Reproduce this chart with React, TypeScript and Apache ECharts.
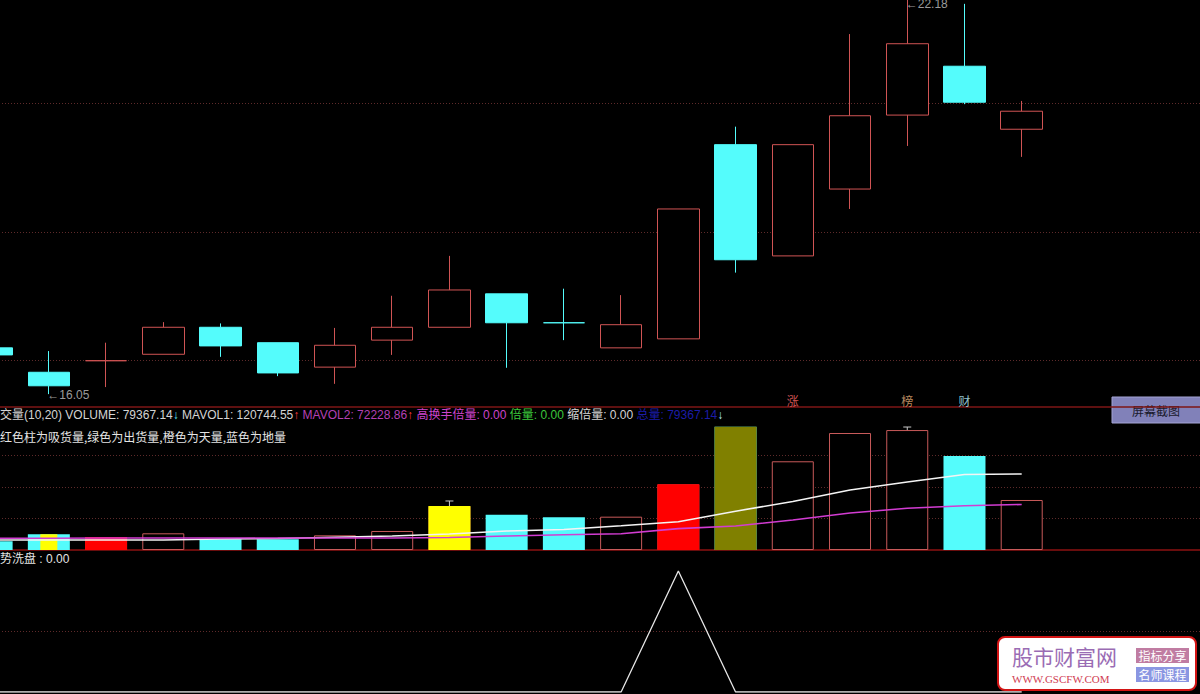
import React, { useEffect, useRef } from "react";
import * as echarts from "echarts";

// ---------- data ----------
const categories = ["1","2","3","4","5","6","7","8","9","10","11","12","13","14","15","16","17","18","19","20","21","22"];

// [open, close, low, high]
const candles: number[][] = [
  [16.77, 16.66, 16.63, 16.80],
  [16.39, 16.18, 16.05, 16.72],
  [16.57, 16.57, 16.16, 16.85],
  [16.67, 17.09, 16.67, 17.17],
  [17.09, 16.80, 16.63, 17.15],
  [16.85, 16.38, 16.33, 16.85],
  [16.47, 16.81, 16.21, 17.08],
  [16.89, 17.09, 16.66, 17.58],
  [17.09, 17.67, 17.09, 18.20],
  [17.61, 17.16, 16.46, 17.61],
  [17.16, 17.16, 16.89, 17.69],
  [16.77, 17.13, 16.77, 17.59],
  [16.91, 18.93, 16.91, 18.93],
  [19.93, 18.14, 17.94, 20.21],
  [18.20, 19.93, 18.20, 19.93],
  [19.24, 20.38, 18.93, 21.65],
  [20.39, 21.50, 19.91, 22.18],
  [21.15, 20.59, 20.56, 22.12],
  [20.17, 20.45, 19.74, 20.61],
];
// doji candles: true = drawn as rising (red), false = falling (cyan)
const dojiRising: Record<number, boolean> = { 2: true, 10: false };

const priceLabels = [
  [1, 16.05],
  [16, 22.18],
];
const markerIdx = [14, 16, 17];
const markerText = ["涨", "榜", "财"];

const volume = [14000, 25000, 20600, 26500, 17000, 17000, 23300, 30200, 69800, 56000, 51900, 52900, 104300, 195700, 140800, 185700, 190400, 149200, 79367.14];
const mavol1 = [15900, 15900, 15900, 15900, 17500, 18300, 20200, 22200, 25400, 30100, 32500, 38600, 44900, 61600, 77000, 95200, 107900, 119800, 120744.55];
const mavol2 = [18600, 18600, 19000, 19000, 19000, 19000, 19000, 19000, 19800, 22200, 24100, 25700, 34000, 38100, 47600, 58700, 66200, 70300, 72228.86];
// signal bars: kind per index ("" = none)
const signalKind = ["", "", "red", "", "", "", "", "", "yellow", "", "", "", "red", "olive", "", "", "", "", ""];
const narrowSignal = ["-", 25000, "-", "-", "-", "-", "-", "-", "-", "-", "-", "-", "-", "-", "-", "-", "-", "-", "-"];
const tickMarks = [
  [8, 69800, 77800],
  [16, 185000, 195200],
];
const washSignal = [0, 0, 0, 0, 0, 0, 0, 0, 0, 0, 0, 0, 1, 0, 0, 0, 0, 0, 0];

const priceGridLevels = [20.58, 18.57, 16.57];
const volGridLevels = [50000, 100000, 150000];
const washGridLevels = [0.5];

const legendNames = ["VOLUME", "MAVOL1", "MAVOL2", "高换手倍量", "倍量", "缩倍量", "总量"];
const legendValues = [79367.14, 120744.55, 72228.86, 0, 0, 0, 79367.14];
const legendArrows = ["↓", "↑", "↑", "", "", "", "↓"];
const volTitle = "交量(10,20)";
const volNote = "红色柱为吸货量,绿色为出货量,橙色为天量,蓝色为地量";
const washName = "势洗盘";
const washValue = 0;

// ---------- styles / layout ----------
const UP = "#d05454";
const DOWN = "#54fcfc";
const FONT = '"Liberation Sans", "Noto Sans CJK SC", sans-serif';
const CJK = '"Noto Sans CJK SC", "Liberation Sans", sans-serif';
const SIGNAL_COLORS: Record<string, string> = { red: "#ff0000", yellow: "#ffff00", olive: "#808000" };
const MARKER_COLORS = ["#ff6a6a", "#e8b07a", "#b8f0ff"];
const DOT = "#5e2a2a";

// the chart canvas is shifted left so that the first candle is partly cut off
const OFFSET_X = 37;
const CHART_W = 1259;
const CHART_H = 694;

function isRising(i: number) {
  const [o, c] = candles[i];
  if (o === c) return dojiRising[i] !== false;
  return c > o;
}

function buildOption(): any {
  const candleData = candles.map((v, i) => {
    const up = isRising(i);
    const col = up ? UP : DOWN;
    return {
      value: v,
      itemStyle: {
        color: up ? "#000000" : DOWN,
        color0: up ? "#000000" : DOWN,
        borderColor: col,
        borderColor0: col,
        borderColorDoji: col,
        borderWidth: 1,
      },
    };
  });

  const volData = volume.map((v, i) => {
    const up = isRising(i);
    return {
      value: v,
      itemStyle: up
        ? { color: "#000000", borderColor: "#c85a5a", borderWidth: 1 }
        : { color: DOWN, borderColor: DOWN, borderWidth: 0 },
    };
  });

  const signalData = signalKind.map((k, i) =>
    k ? { value: volume[i], itemStyle: { color: SIGNAL_COLORS[k] } } : "-"
  );

  const legendParts: string[] = [`{w|${volTitle} }`];
  legendNames.forEach((n, i) => {
    const styleKey = ["w", "w", "m", "p", "g", "w", "b"][i];
    const arrowKey = i === 0 ? "c" : i === 6 ? "bc" : "r";
    legendParts.push(`{${styleKey}|${i === 0 ? "" : " "}${n}: ${legendValues[i].toFixed(2)}}`);
    if (legendArrows[i]) legendParts.push(`{${arrowKey}|${legendArrows[i]}}`);
  });
  const rs = (c: string) => ({ fill: c, fontSize: 12, fontFamily: FONT });

  const dotted = (color: string) => ({ color, type: [1, 2] as number[], width: 1 });
  const X = (x: number) => x + OFFSET_X;

  const gridBase = { left: 0, right: 0 };

  return {
    animation: false,
    backgroundColor: "#000000",
    grid: [
      { ...gridBase, top: 0, height: 407 },
      { ...gridBase, top: 424, height: 126 },
      { ...gridBase, top: 551, height: 141 },
    ],
    xAxis: [
      { type: "category", gridIndex: 0, data: categories, boundaryGap: true, axisLine: { show: true, lineStyle: { color: "#7e1616", width: 1.5 } }, axisTick: { show: false }, axisLabel: { show: false }, splitLine: { show: false } },
      { type: "category", gridIndex: 1, data: categories, boundaryGap: true, axisLine: { show: true, lineStyle: { color: "#8c1212", width: 1.5 } }, axisTick: { show: false }, axisLabel: { show: false }, splitLine: { show: false } },
      { type: "category", gridIndex: 2, data: categories, boundaryGap: true, axisLine: { show: false }, axisTick: { show: false }, axisLabel: { show: false }, splitLine: { show: false } },
      { type: "category", gridIndex: 1, data: categories, boundaryGap: true, show: false },
    ],
    yAxis: [
      { type: "value", gridIndex: 0, min: 15.85, max: 22.18, show: false, splitLine: { show: false } },
      { type: "value", gridIndex: 1, min: 0, max: 200000, show: false, splitLine: { show: false } },
      { type: "value", gridIndex: 2, min: 0, max: 1.165, show: false, splitLine: { show: false } },
    ],
    series: [
      {
        type: "candlestick",
        xAxisIndex: 0,
        yAxisIndex: 0,
        barWidth: 42,
        data: candleData,
        markLine: {
          silent: true,
          z: 1,
          symbol: ["none", "none"],
          label: { show: false },
          lineStyle: dotted(DOT),
          data: priceGridLevels.map((v) => ({ yAxis: v })),
        },
      },
      {
        type: "scatter",
        xAxisIndex: 0,
        yAxisIndex: 0,
        symbolSize: 1,
        itemStyle: { color: "rgba(0,0,0,0)" },
        data: priceLabels.map((p, i) => ({
          value: p,
          label: { offset: i === 0 ? [-2, 1] : [-2, 4] },
        })),
        label: {
          show: true,
          position: "right",
          distance: 0,
          color: "#c4c4c4",
          fontSize: 12,
          fontFamily: FONT,
          formatter: (p: any) => "←" + Number(p.value[1]).toFixed(2),
        },
      },
      {
        type: "scatter",
        xAxisIndex: 0,
        yAxisIndex: 0,
        symbolSize: 1,
        itemStyle: { color: "rgba(0,0,0,0)" },
        data: markerIdx.map((x, i) => ({
          value: [x, 15.85, markerText[i]],
          label: { color: MARKER_COLORS[i] },
        })),
        label: {
          show: true,
          position: "inside",
          offset: [0, -7],
          fontSize: 12,
          fontFamily: CJK,
          formatter: (p: any) => p.value[2],
        },
      },
      {
        type: "bar",
        xAxisIndex: 1,
        yAxisIndex: 1,
        barWidth: 42,
        barGap: "-100%",
        data: volData,
        markLine: {
          silent: true,
          z: 1,
          symbol: ["none", "none"],
          label: { show: false },
          lineStyle: dotted(DOT),
          data: volGridLevels.map((v) => ({ yAxis: v })),
        },
      },
      {
        type: "line",
        xAxisIndex: 1,
        yAxisIndex: 1,
        data: mavol1,
        symbol: "none",
        lineStyle: { color: "#f4f4f4", width: 1.6 },
      },
      {
        type: "line",
        xAxisIndex: 1,
        yAxisIndex: 1,
        data: mavol2,
        symbol: "none",
        lineStyle: { color: "#d23cd2", width: 1.6 },
      },
      {
        type: "bar",
        xAxisIndex: 1,
        yAxisIndex: 1,
        barWidth: 42,
        barGap: "-100%",
        data: signalData,
      },
      {
        type: "bar",
        xAxisIndex: 3,
        yAxisIndex: 1,
        barWidth: 17,
        itemStyle: { color: "#ffff00" },
        data: narrowSignal,
      },
      {
        type: "custom",
        xAxisIndex: 1,
        yAxisIndex: 1,
        data: tickMarks,
        renderItem: (params: any, api: any) => {
          const top = api.coord([api.value(0), api.value(2)]);
          const bot = api.coord([api.value(0), api.value(1)]);
          const st = { stroke: "#c8c8c8", lineWidth: 1 };
          return {
            type: "group",
            children: [
              { type: "line", shape: { x1: top[0], y1: top[1], x2: bot[0], y2: bot[1] }, style: st },
              { type: "line", shape: { x1: top[0] - 4, y1: top[1], x2: top[0] + 4, y2: top[1] }, style: st },
            ],
          };
        },
      },
      {
        type: "line",
        xAxisIndex: 2,
        yAxisIndex: 2,
        data: washSignal,
        symbol: "none",
        lineStyle: { color: "#e6e6e6", width: 1.3 },
        markLine: {
          silent: true,
          z: 1,
          symbol: ["none", "none"],
          label: { show: false },
          lineStyle: dotted(DOT),
          data: washGridLevels.map((v) => ({ yAxis: v })),
        },
      },
    ],
    graphic: [
      {
        type: "text",
        x: X(0),
        y: 415,
        z: 50,
        style: {
          text: legendParts.join(""),
          verticalAlign: "middle",
          fontSize: 12,
          fontFamily: FONT,
          fill: "#d4d4d4",
          rich: {
            w: rs("#d4d4d4"),
            c: rs("#5ee6f0"),
            r: rs("#ff3a3a"),
            m: rs("#b440b4"),
            p: rs("#cc44cc"),
            g: rs("#3cc83c"),
            b: rs("#1c1ca8"),
            bc: rs("#b0e8ff"),
          },
        },
      },
      {
        type: "text",
        x: X(0),
        y: 436,
        z: 50,
        style: { text: volNote, fill: "#e4e4e4", fontSize: 12, fontFamily: CJK, verticalAlign: "middle" },
      },
      {
        type: "text",
        x: X(0),
        y: 559,
        z: 50,
        style: { text: `${washName} : ${washValue.toFixed(2)}`, fill: "#e4e4e4", fontSize: 12, fontFamily: FONT, verticalAlign: "middle" },
      },
      {
        type: "group",
        z: 60,
        children: [
          { type: "rect", shape: { x: X(1112), y: 397, width: 90, height: 26 }, style: { fill: "#8181b9", stroke: "#a4a4d4", lineWidth: 1 } },
          { type: "text", x: X(1156), y: 410, style: { text: "屏幕截图", fill: "#1a1a2c", fontSize: 12, fontFamily: CJK, align: "center", verticalAlign: "middle" } },
        ],
      },
      {
        type: "group",
        z: 60,
        children: [
          { type: "rect", shape: { x: X(998), y: 637, width: 198, height: 53, r: 7 }, style: { fill: "#ffffff", stroke: "#d21414", lineWidth: 2 } },
          { type: "text", x: X(1012), y: 656, style: { text: "股市财富网", fill: "#9a6cb4", fontSize: 21, fontFamily: CJK, verticalAlign: "middle" } },
          { type: "text", x: X(1012), y: 679, style: { text: "WWW.GSCFW.COM", fill: "#d03c52", fontSize: 11, fontFamily: '"Liberation Serif", serif', verticalAlign: "middle" } },
          { type: "rect", shape: { x: X(1136), y: 648, width: 53, height: 15 }, style: { fill: "#c07ca2" } },
          { type: "text", x: X(1162.5), y: 655.5, style: { text: "指标分享", fill: "#ffffff", fontSize: 12, fontFamily: CJK, align: "center", verticalAlign: "middle" } },
          { type: "rect", shape: { x: X(1136), y: 667, width: 53, height: 15 }, style: { fill: "#8a96e2" } },
          { type: "text", x: X(1162.5), y: 674.5, style: { text: "名师课程", fill: "#ffffff", fontSize: 12, fontFamily: CJK, align: "center", verticalAlign: "middle" } },
        ],
      },
    ],
  };
}

export default function App() {
  const ref = useRef<HTMLDivElement>(null);
  useEffect(() => {
    if (!ref.current) return;
    const chart = echarts.init(ref.current, null, { renderer: "svg" });
    chart.setOption(buildOption());
    return () => chart.dispose();
  }, []);
  return (
    <div style={{ position: "fixed", left: 0, top: 0, width: 1200, height: CHART_H, overflow: "hidden", background: "#000" }}>
      <div
        ref={ref}
        style={{ position: "absolute", left: -OFFSET_X, top: 0, width: CHART_W, height: CHART_H }}
      />
    </div>
  );
}
